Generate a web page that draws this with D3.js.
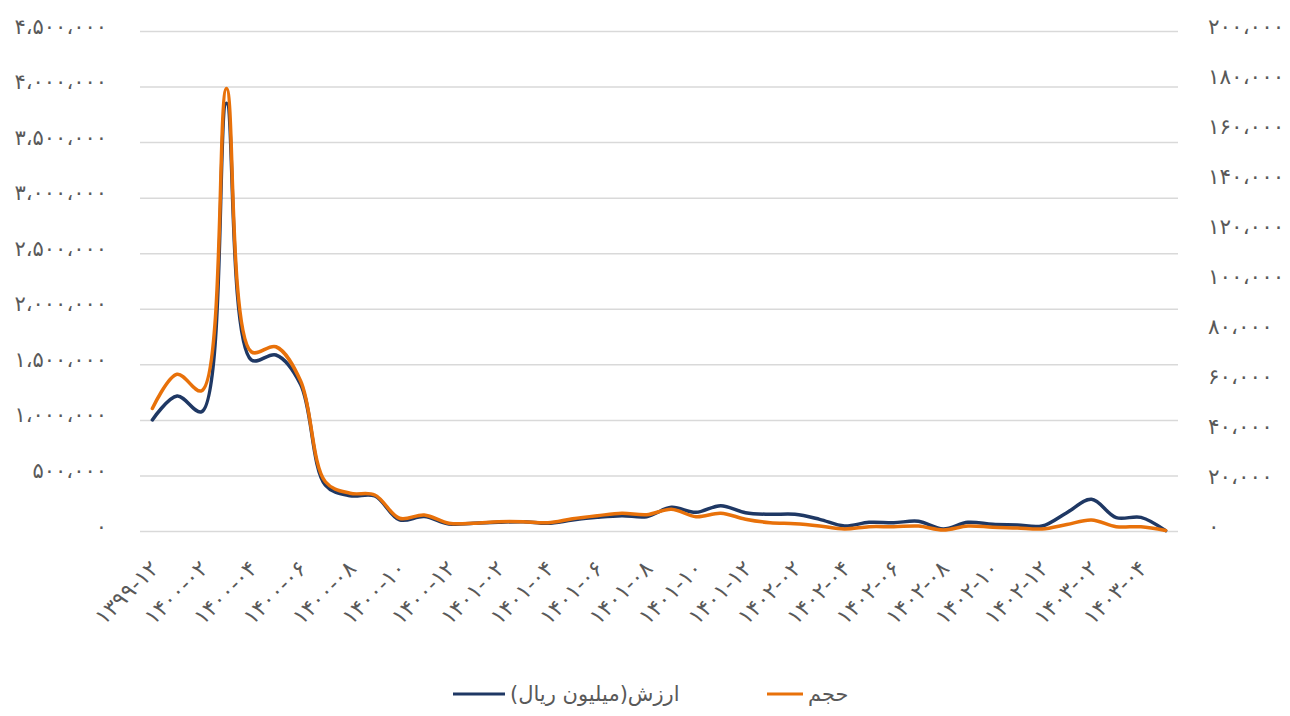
<!DOCTYPE html>
<html>
<head>
<meta charset="utf-8">
<script src="https://cdn.jsdelivr.net/npm/d3@7"></script>
<style>
  html, body { margin: 0; padding: 0; background: #fff; }
  svg { display: block; font-family: "DejaVu Sans", sans-serif; }
</style>
</head>
<body>
<svg id="chart" width="1290" height="716"></svg>
<script>
// ---- data ----
const categories = [
  "۱۳۹۹-۱۲",
  "۱۴۰۰-۰۱","۱۴۰۰-۰۲","۱۴۰۰-۰۳","۱۴۰۰-۰۴","۱۴۰۰-۰۵","۱۴۰۰-۰۶",
  "۱۴۰۰-۰۷","۱۴۰۰-۰۸","۱۴۰۰-۰۹","۱۴۰۰-۱۰","۱۴۰۰-۱۱","۱۴۰۰-۱۲",
  "۱۴۰۱-۰۱","۱۴۰۱-۰۲","۱۴۰۱-۰۳","۱۴۰۱-۰۴","۱۴۰۱-۰۵","۱۴۰۱-۰۶",
  "۱۴۰۱-۰۷","۱۴۰۱-۰۸","۱۴۰۱-۰۹","۱۴۰۱-۱۰","۱۴۰۱-۱۱","۱۴۰۱-۱۲",
  "۱۴۰۲-۰۱","۱۴۰۲-۰۲","۱۴۰۲-۰۳","۱۴۰۲-۰۴","۱۴۰۲-۰۵","۱۴۰۲-۰۶",
  "۱۴۰۲-۰۷","۱۴۰۲-۰۸","۱۴۰۲-۰۹","۱۴۰۲-۱۰","۱۴۰۲-۱۱","۱۴۰۲-۱۲",
  "۱۴۰۳-۰۱","۱۴۰۳-۰۲","۱۴۰۳-۰۳","۱۴۰۳-۰۴","۱۴۰۳-۰۵"
];
// ارزش (میلیون ریال) — left axis
const valueSeries = [
  1000000, 1215000, 1074000, 3850000, 1540000, 1584000, 1320000,
  414000, 318000, 315000, 100000, 130000, 63000,
  69000, 78000, 84000, 69000, 99000, 123000,
  138000, 129000, 213000, 168000, 228000, 165000,
  150000, 150000, 105000, 45000, 78000, 75000,
  87000, 18000, 78000, 60000, 54000, 45000,
  165000, 285000, 120000, 123000, 3000
];
// حجم — right axis
const volumeSeries = [
  49000, 62700, 56100, 177000, 71700, 73700, 60000,
  19700, 15100, 14400, 5100, 6400, 3100,
  3100, 3700, 3700, 3300, 4900, 6100,
  7100, 6500, 8700, 5700, 7100, 4700,
  3300, 2900, 2000, 800, 1700, 1700,
  2000, 400, 2000, 1500, 1200, 800,
  2600, 4400, 1700, 1700, 200
];
const leftTicks = [0, 500000, 1000000, 1500000, 2000000, 2500000, 3000000, 3500000, 4000000, 4500000];
const rightTicks = [0, 20000, 40000, 60000, 80000, 100000, 120000, 140000, 160000, 180000, 200000];
const seriesNames = ["ارزش(میلیون ریال)", "حجم"];

// ---- helpers ----
const faDigits = "۰۱۲۳۴۵۶۷۸۹";
function toFa(v) {
  return d3.format(",")(v).replace(/\d/g, d => faDigits[+d]).replace(/,/g, "،");
}

const svg = d3.select("#chart");
const plotLeft = 140, plotRight = 1178, plotTop = 31, plotBottom = 531;
const textColor = "#595959";
const gridColor = "#d9d9d9";
const blue = "#1f3864";
const orange = "#e8710a";

const x = d3.scalePoint().domain(categories).range([plotLeft, plotRight]).padding(0.5);
const yL = d3.scaleLinear().domain([0, 4500000]).range([plotBottom, plotTop]);
const yR = d3.scaleLinear().domain([0, 200000]).range([plotBottom, plotTop]);

// gridlines
const grid = svg.append("g")
  .attr("transform", `translate(${plotLeft},0)`)
  .call(d3.axisLeft(yL).tickValues(leftTicks).tickSize(-(plotRight - plotLeft)).tickFormat(""));
grid.select(".domain").remove();
grid.selectAll("line").attr("stroke", gridColor).attr("stroke-width", 1.5);

// left axis labels
const axL = svg.append("g")
  .attr("transform", `translate(107,0)`)
  .call(d3.axisLeft(yL).tickValues(leftTicks).tickSize(0).tickPadding(0).tickFormat(toFa));
axL.select(".domain").remove();
axL.selectAll("text")
  .attr("fill", textColor).attr("font-size", 21)
  .attr("font-family", "DejaVu Sans").attr("direction", "ltr")
  .attr("dy", "0.1em");

// right axis labels
const axR = svg.append("g")
  .attr("transform", `translate(1208,0)`)
  .call(d3.axisRight(yR).tickValues(rightTicks).tickSize(0).tickPadding(0).tickFormat(toFa));
axR.select(".domain").remove();
axR.selectAll("text")
  .attr("fill", textColor).attr("font-size", 21.5)
  .attr("font-family", "DejaVu Sans").attr("direction", "ltr")
  .attr("dy", "0.1em");

// x axis labels
const xTickVals = categories.filter((d, i) => i % 2 === 0);
const axX = svg.append("g")
  .attr("transform", `translate(0,${plotBottom})`)
  .call(d3.axisBottom(x).tickValues(xTickVals).tickSize(0).tickPadding(0));
axX.select(".domain").remove();
axX.selectAll("text")
  .attr("fill", textColor).attr("font-size", 22)
  .attr("font-family", "DejaVu Sans").attr("direction", "ltr")
  .attr("text-anchor", "end")
  .attr("dy", 0).attr("y", 0)
  .attr("transform", "translate(7,39) rotate(-45)");

// lines
const lineL = d3.line().x((d, i) => x(categories[i])).y(d => yL(d)).curve(d3.curveCatmullRom.alpha(0.5));
const lineR = d3.line().x((d, i) => x(categories[i])).y(d => yR(d)).curve(d3.curveCatmullRom.alpha(0.5));

svg.append("path").datum(valueSeries)
  .attr("d", lineL).attr("fill", "none").attr("stroke", blue)
  .attr("stroke-width", 3.5).attr("stroke-linejoin", "round").attr("stroke-linecap", "round");
svg.append("path").datum(volumeSeries)
  .attr("d", lineR).attr("fill", "none").attr("stroke", orange)
  .attr("stroke-width", 3.5).attr("stroke-linejoin", "round").attr("stroke-linecap", "round");

// legend
const legend = svg.append("g").attr("font-family", "DejaVu Sans").attr("font-size", 21).attr("fill", textColor);
const legendItems = [
  { name: seriesNames[0], color: blue, x1: 453, x2: 505 },
  { name: seriesNames[1], color: orange, x1: 767, x2: 803 }
];
legendItems.forEach(it => {
  legend.append("line").attr("x1", it.x1).attr("x2", it.x2).attr("y1", 694).attr("y2", 694)
    .attr("stroke", it.color).attr("stroke-width", 3);
  const t = legend.append("text").attr("y", 694).attr("dy", "0.35em")
    .attr("text-anchor", "middle").attr("direction", "rtl").text(it.name);
  const w = t.node().getComputedTextLength();
  t.attr("x", it.x2 + 5 + w / 2);
});
</script>
</body>
</html>
